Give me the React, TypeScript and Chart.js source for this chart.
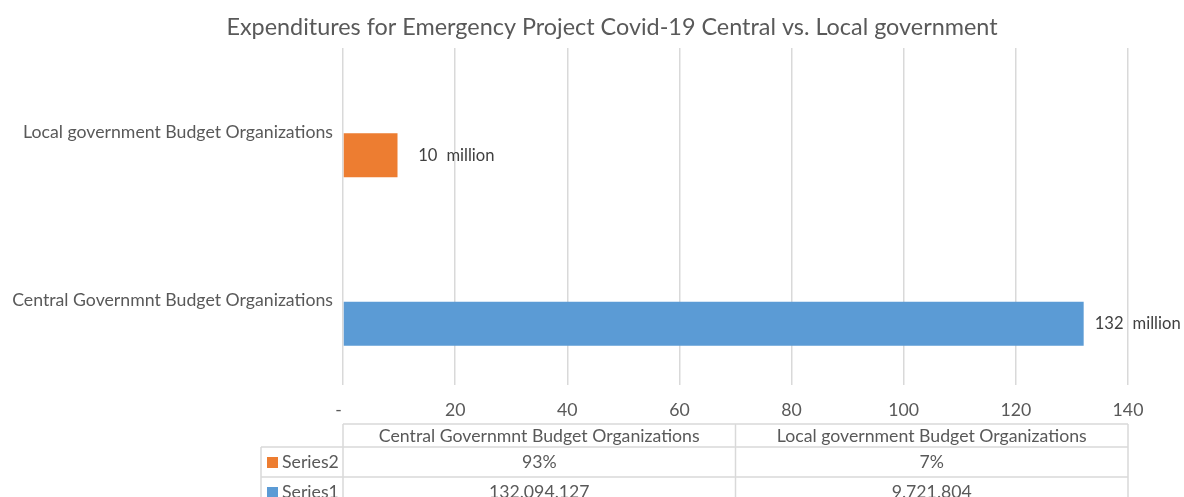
import React, { useEffect, useRef } from 'react';
import { Chart, registerables } from 'chart.js';

Chart.register(...registerables);

// ---------- data ----------
const TITLE = 'Expenditures for Emergency Project Covid-19 Central vs. Local government';
const CATEGORIES = ['Central Governmnt Budget Organizations', 'Local government Budget Organizations'];
const SERIES1_VALUES = [132094127, 9721804];
const SERIES2_SHARES = [93, 7];
const SERIES_NAMES = ['Series2', 'Series1'];
const X_MIN = 0;
const X_MAX = 140;
const X_STEP = 20;
const UNIT_LABEL = 'million';

// ---------- style ----------
const FONT = 'Lato';
const LABEL_SIZE = 17.7;
const DATA_LABEL_SIZE = 16.6;
const TITLE_SIZE = 23.4;
const TEXT_COLOR = '#595959';
const GRID_COLOR = '#d9d9d9';
const BLUE = '#5B9BD5';
const ORANGE = '#ED7D31';
const BAR_COLORS = [BLUE, ORANGE]; // per category (table order)
const SERIES_KEY_COLORS = [ORANGE, BLUE];

const fmtThousands = (v: number) => String(v).replace(/\B(?=(\d{3})+(?!\d))/g, '.');

export default function App() {
  const ref = useRef<HTMLCanvasElement | null>(null);

  useEffect(() => {
    const canvas = ref.current;
    if (!canvas) return;

    // Chart.js puts the first category at the top; Excel puts it at the bottom.
    const axisLabels = [...CATEGORIES].reverse();
    const series1Millions = [...SERIES1_VALUES].reverse().map((v) => v / 1e6);
    const axisBarColors = [...BAR_COLORS].reverse();

    const titlePlugin = {
      id: 'excelTitle',
      afterDraw(chart: any) {
        const ctx = chart.ctx;
        ctx.save();
        ctx.font = `${TITLE_SIZE}px ${FONT}`;
        ctx.fillStyle = TEXT_COLOR;
        ctx.textAlign = 'center';
        ctx.textBaseline = 'middle';
        ctx.fillText(TITLE, 612, 27);
        ctx.restore();
      },
    };

    const dataLabelPlugin = {
      id: 'dataLabels',
      afterDatasetsDraw(chart: any) {
        const ctx = chart.ctx;
        const meta = chart.getDatasetMeta(1);
        ctx.save();
        ctx.font = `${DATA_LABEL_SIZE}px ${FONT}`;
        ctx.fillStyle = '#404040';
        ctx.textBaseline = 'middle';
        const digitsW = ctx.measureText('000').width;
        meta.data.forEach((el: any, i: number) => {
          const v = series1Millions[i];
          if (v == null) return;
          const numRight = el.x + 11 + digitsW;
          ctx.textAlign = 'right';
          ctx.fillText(String(Math.round(v)), numRight, el.y);
          ctx.textAlign = 'left';
          ctx.fillText(UNIT_LABEL, numRight + 9, el.y);
        });
        ctx.restore();
      },
    };

    const tablePlugin = {
      id: 'dataTable',
      afterDraw(chart: any) {
        const ctx = chart.ctx;
        const { left, right, bottom } = chart.chartArea;
        const mid = (left + right) / 2;
        const keyLeft = left - 82;
        const top = bottom + 39;
        const headH = 23;
        const rowH = 30;
        const r1 = top + headH;
        const r2 = r1 + rowH;
        const r3 = r2 + rowH;
        ctx.save();
        ctx.strokeStyle = GRID_COLOR;
        ctx.lineWidth = 1.5;
        const line = (x1: number, y1: number, x2: number, y2: number) => {
          ctx.beginPath();
          ctx.moveTo(x1, y1);
          ctx.lineTo(x2, y2);
          ctx.stroke();
        };
        line(left, top, right, top);
        line(keyLeft, r1, right, r1);
        line(keyLeft, r2, right, r2);
        line(keyLeft, r3, right, r3);
        line(left, top, left, r3);
        line(mid, top, mid, r3);
        line(right, top, right, r3);
        line(keyLeft, r1, keyLeft, r3);

        ctx.font = `${LABEL_SIZE}px ${FONT}`;
        ctx.fillStyle = TEXT_COLOR;
        ctx.textBaseline = 'middle';
        ctx.textAlign = 'center';
        const colCenters = [(left + mid) / 2, (mid + right) / 2];
        CATEGORIES.forEach((c, i) => ctx.fillText(c, colCenters[i], top + headH / 2 + 1));
        SERIES2_SHARES.forEach((s, i) => ctx.fillText(`${s}%`, colCenters[i], r1 + rowH / 2));
        SERIES1_VALUES.forEach((v, i) => ctx.fillText(fmtThousands(v), colCenters[i], r2 + rowH / 2));

        const rowsY = [r1 + rowH / 2, r2 + rowH / 2];
        SERIES_NAMES.forEach((name, i) => {
          ctx.fillStyle = SERIES_KEY_COLORS[i];
          ctx.fillRect(keyLeft + 6, rowsY[i] - 5, 11, 11);
          ctx.fillStyle = TEXT_COLOR;
          ctx.textAlign = 'left';
          ctx.fillText(name, keyLeft + 21, rowsY[i]);
        });
        ctx.restore();
      },
    };

    const chart = new Chart(canvas, {
      type: 'bar',
      data: {
        labels: axisLabels,
        datasets: [
          {
            label: SERIES_NAMES[0],
            data: axisLabels.map(() => null),
            backgroundColor: ORANGE,
          },
          {
            label: SERIES_NAMES[1],
            data: series1Millions,
            backgroundColor: axisBarColors,
          },
        ],
      },
      options: {
        indexAxis: 'y',
        animation: false,
        responsive: false,
        maintainAspectRatio: false,
        devicePixelRatio: 1,
        layout: { padding: { left: 0, right: 56, top: 48, bottom: 0 } },
        datasets: { bar: { categoryPercentage: 0.546, barPercentage: 0.957 } },
        plugins: {
          legend: { display: false },
          tooltip: { enabled: false },
          title: { display: false },
        },
        scales: {
          x: {
            type: 'linear',
            min: X_MIN,
            max: X_MAX,
            ticks: {
              stepSize: X_STEP,
              color: TEXT_COLOR,
              font: { family: FONT, size: LABEL_SIZE },
              padding: 15,
              callback: (v: any) => (Number(v) === 0 ? '-  ' : String(v)),
            },
            grid: { color: GRID_COLOR, lineWidth: 1.5, drawTicks: false },
            border: { display: false },
            afterFit: (s: any) => {
              s.height = 112;
            },
          },
          y: {
            ticks: { color: TEXT_COLOR, font: { family: FONT, size: LABEL_SIZE }, padding: 10 },
            grid: { display: false, drawTicks: false },
            border: { display: false },
            afterFit: (s: any) => {
              s.width = 343;
            },
          },
        },
      },
      plugins: [titlePlugin, dataLabelPlugin, tablePlugin],
    } as any);

    return () => chart.destroy();
  }, []);

  return (
    <div style={{ position: 'fixed', left: 0, top: 0, width: 1184, height: 497, background: '#fff' }}>
      <canvas ref={ref} width={1184} height={497} style={{ display: 'block', width: 1184, height: 497 }} />
    </div>
  );
}
